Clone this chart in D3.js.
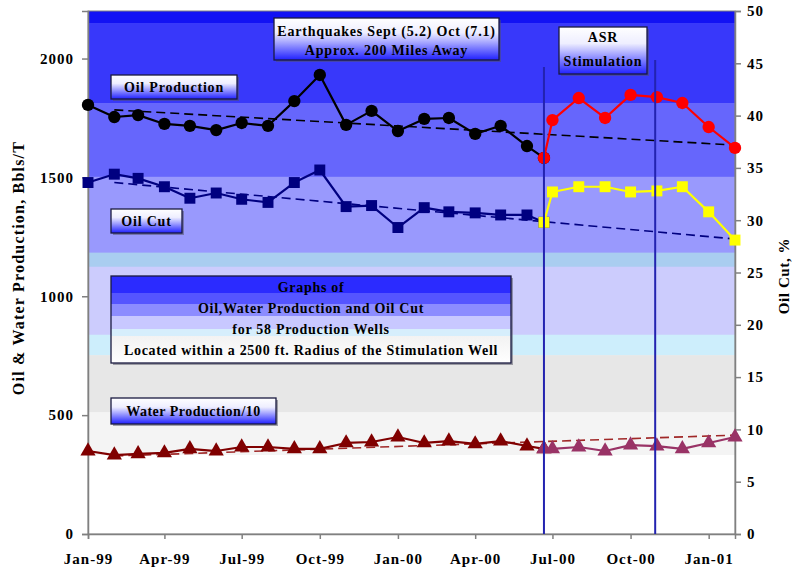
<!DOCTYPE html>
<html><head><meta charset="utf-8">
<script src="https://cdn.jsdelivr.net/npm/d3@7"></script>
<style>
body{margin:0;background:#fff}
svg{display:block}
</style>
</head><body><svg id="c" width="796" height="575"></svg>
<script>
// ---------- data ----------
const preDates  = ["1999-01-01","1999-02-01","1999-03-01","1999-04-01","1999-05-01","1999-06-01","1999-07-01","1999-08-01","1999-09-01","1999-10-01","1999-11-01","1999-12-01","2000-01-01","2000-02-01","2000-03-01","2000-04-01","2000-05-01","2000-06-01","2000-06-21"];
const oilPre    = [1805,1754,1762,1725,1717,1699,1729,1717,1821,1931,1721,1780,1695,1746,1750,1683,1717,1632,1582];
const cutPre    = [33.6,34.4,34.0,33.2,32.1,32.6,32.0,31.7,33.6,34.8,31.3,31.4,29.3,31.2,30.8,30.7,30.5,30.5,29.8];
const waterPre  = [349,332,337,341,358,349,366,366,358,358,383,387,408,383,391,379,391,370,358];

const postDates = ["2000-06-21","2000-07-01","2000-08-01","2000-09-01","2000-10-01","2000-11-01","2000-12-01","2001-01-01","2001-02-01"];
const oilPost   = [1582,1741,1834,1750,1847,1838,1813,1712,1624];
const cutPost   = [29.8,32.7,33.2,33.2,32.7,32.8,33.2,30.8,28.1];
const waterPost = [358,358,366,349,374,370,358,383,408];

const trendDates = ["1999-02-01","2001-02-01"];
const oilTrend   = [1784,1636];
const cutTrend   = [33.6,28.2];
const waterTrend = [328,416];

const asrDates = ["2000-06-21","2000-10-30"];
const xTickDates = ["1999-01-01","1999-04-01","1999-07-01","1999-10-01","2000-01-01","2000-04-01","2000-07-01","2000-10-01","2001-01-01"];
const leftTicks  = [0,500,1000,1500,2000];
const rightTicks = [0,5,10,15,20,25,30,35,40,45,50];

// ---------- layout ----------
const FONT = "'Liberation Serif'";
const W = 796, H = 575;
const m = {l:88, r:61, t:11, b:41};
const iw = W - m.l - m.r, ih = H - m.t - m.b;
const P = d3.timeParse("%Y-%m-%d");

const svg = d3.select("#c");
const defs = svg.append("defs");

const x = d3.scaleTime().domain([P("1999-01-01"), P("2001-02-01")]).range([m.l, m.l + iw]);
const yL = d3.scaleLinear().domain([0,2200]).range([m.t + ih, m.t]);
const yR = d3.scaleLinear().domain([0,50]).range([m.t + ih, m.t]);

// background bands (fractions of plot height from top)
const bands = [
  [0.000,0.023,"#1212f4"],
  [0.023,0.176,"#3838fa"],
  [0.176,0.317,"#6666fc"],
  [0.317,0.462,"#9999fd"],
  [0.462,0.489,"#a9cdf0"],
  [0.489,0.619,"#ccccfd"],
  [0.619,0.658,"#cdeefc"],
  [0.658,0.767,"#e7e7e7"],
  [0.767,0.849,"#f4f4f4"],
  [0.849,1.000,"#ffffff"]
];
svg.append("g").selectAll("rect").data(bands).join("rect")
  .attr("x", m.l).attr("width", iw)
  .attr("y", d => m.t + d[0]*ih).attr("height", d => (d[1]-d[0])*ih + 0.5)
  .attr("fill", d => d[2]);

svg.append("rect").attr("x", m.l).attr("y", m.t).attr("width", iw).attr("height", ih)
  .attr("fill","none").attr("stroke","#808080").attr("stroke-width",1);

// ---------- axes ----------
const fmt = d3.timeFormat("%b-%y");
const gx = svg.append("g").attr("transform",`translate(0,${m.t+ih})`)
  .call(d3.axisBottom(x).tickValues(xTickDates.map(P)).tickFormat(fmt).tickSize(5).tickPadding(14));
const gl = svg.append("g").attr("transform",`translate(${m.l},0)`)
  .call(d3.axisLeft(yL).tickValues(leftTicks).tickFormat(d3.format("d")).tickSize(6).tickPadding(8));
const gr = svg.append("g").attr("transform",`translate(${m.l+iw},0)`)
  .call(d3.axisRight(yR).tickValues(rightTicks).tickFormat(d3.format("d")).tickSize(6).tickPadding(6));
[gx,gl,gr].forEach(g => {
  g.attr("font-family", null);
  g.select(".domain").attr("stroke","#808080").attr("stroke-width",1.5);
  g.selectAll(".tick line").attr("stroke","#808080").attr("stroke-width",1.5);
  g.selectAll("text").attr("font-size",15).style("font-family",FONT).style("font-weight","bold")
    .style("letter-spacing","1px").attr("fill","#000");
});

svg.append("text").attr("transform",`translate(24,268) rotate(-90)`)
  .attr("text-anchor","middle").attr("font-size",16).style("font-family",FONT).style("font-weight","bold")
  .style("letter-spacing","1.2px").text("Oil & Water Production, Bbls/T");
svg.append("text").attr("transform",`translate(789,276) rotate(-90)`)
  .attr("text-anchor","middle").attr("font-size",15).style("font-family",FONT).style("font-weight","bold")
  .style("letter-spacing","0.6px").text("Oil Cut, %");

// ---------- series ----------
function series(dates, vals, y, color, sym, size){
  const pts = dates.map((d,i)=>[x(P(d)), y(vals[i])]);
  svg.append("path").attr("d", d3.line()(pts)).attr("fill","none")
    .attr("stroke", color).attr("stroke-width", 2.2).attr("stroke-linejoin","round");
  svg.append("g").selectAll("path").data(pts).join("path")
    .attr("transform", p=>`translate(${p[0]},${p[1]})`)
    .attr("d", d3.symbol().type(sym).size(size))
    .attr("fill", color);
}
function trend(vals, y, color){
  const pts = trendDates.map((d,i)=>[x(P(d)), y(vals[i])]);
  svg.append("path").attr("d", d3.line()(pts)).attr("fill","none")
    .attr("stroke", color).attr("stroke-width", 1.6).attr("stroke-dasharray","9,5");
}

trend(oilTrend, yL, "#000000");
trend(cutTrend, yR, "#000080");
trend(waterTrend, yL, "#a02828");

series(preDates, waterPre, yL, "#800000", d3.symbolTriangle, 100);
series(postDates, waterPost, yL, "#993366", d3.symbolTriangle, 100);
series(preDates, cutPre, yR, "#000080", d3.symbolSquare, 120);
series(postDates, cutPost, yR, "#ffff00", d3.symbolSquare, 120);
series(preDates, oilPre, yL, "#000000", d3.symbolCircle, 120);
series(postDates, oilPost, yL, "#ff0000", d3.symbolCircle, 120);

// ASR vertical lines
const asrTops = [67, 60];
svg.append("g").selectAll("line").data(asrDates).join("line")
  .attr("x1", d=>x(P(d))).attr("x2", d=>x(P(d)))
  .attr("y1", (d,i)=>asrTops[i]).attr("y2", m.t+ih)
  .attr("stroke","#2323b0").attr("stroke-width",2);

// ---------- label boxes ----------
const g1 = defs.append("linearGradient").attr("id","boxg").attr("x1",0).attr("y1",0).attr("x2",0).attr("y2",1);
g1.append("stop").attr("offset","0%").attr("stop-color","#ffffff");
g1.append("stop").attr("offset","35%").attr("stop-color","#eeeeff");
g1.append("stop").attr("offset","60%").attr("stop-color","#a0a0ff");
g1.append("stop").attr("offset","100%").attr("stop-color","#2020ff");

const g2 = defs.append("linearGradient").attr("id","boxg2").attr("x1",0).attr("y1",0).attr("x2",0).attr("y2",1);
[[0,"#2b2bff"],[0.195,"#2b2bff"],[0.195,"#5555ff"],[0.32,"#5555ff"],[0.32,"#8c8cff"],[0.46,"#8c8cff"],
 [0.46,"#c8c8ff"],[0.61,"#c8c8ff"],[0.61,"#d6eefc"],[0.69,"#d6eefc"],[0.69,"#f2f2f2"],[1,"#ffffff"]]
 .forEach(s=>g2.append("stop").attr("offset",s[0]).attr("stop-color",s[1]));

function box(x0,y0,w,h,lines,fill,fs,lineYs,ls){
  svg.append("rect").attr("x",x0+2).attr("y",y0+2).attr("width",w).attr("height",h).attr("fill","#505060").attr("opacity",0.5);
  svg.append("rect").attr("x",x0).attr("y",y0).attr("width",w).attr("height",h)
    .attr("fill",fill).attr("stroke","#1a1a40").attr("stroke-width",1.3);
  lines.forEach((t,i)=>{
    svg.append("text").attr("x",x0+w/2).attr("y",lineYs[i]).attr("text-anchor","middle")
      .attr("font-size",fs).style("font-family",FONT).style("font-weight","bold")
      .style("letter-spacing",ls+"px").attr("fill","#000").text(t);
  });
}
box(274,18,225,42,["Earthquakes Sept (5.2) Oct (7.1)","Approx. 200 Miles Away"],"url(#boxg)",14,[36,55],0.8);
box(559,27,88,47,["ASR","Stimulation"],"url(#boxg)",14,[42,66],0.8);
box(111,75,126,24,["Oil Production"],"url(#boxg)",14,[92],0.8);
box(111,209,71,24,["Oil Cut"],"url(#boxg)",14,[226],0.8);
box(111,398,165,26,["Water Production/10"],"url(#boxg)",14,[416],0.5);
box(111,276,400,87,["Graphs of","Oil,Water Production and Oil Cut","for 58 Production Wells","Located within a 2500 ft. Radius of the Stimulation Well"],"url(#boxg2)",14,[292,313,334,355],0.7);
</script>
</body></html>
